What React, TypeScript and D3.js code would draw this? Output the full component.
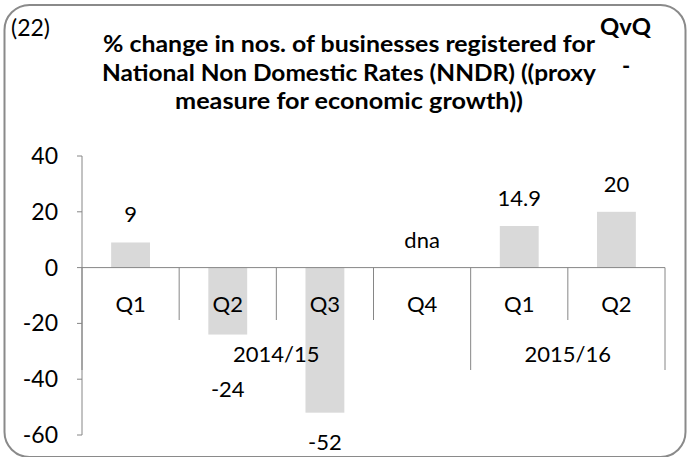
import React from "react";
import * as d3 from "d3";

const categories = ["Q1", "Q2", "Q3", "Q4", "Q1", "Q2"];
const values = [9, -24, -52, null, 14.9, 20];
const valueLabels = ["9", "-24", "-52", "dna", "14.9", "20"];
const labelNudge = [0, 25, 0, 0, 0, 0];
const years = [
  { label: "2014/15", from: 0, to: 4 },
  { label: "2015/16", from: 4, to: 6 },
];
const yTicks = [-60, -40, -20, 0, 20, 40];
const titleLines = [
  "% change in nos. of businesses registered for",
  "National Non Domestic Rates (NNDR) ((proxy",
  "measure for economic growth))",
];
const titleWidths = [492, 494, 348];

const W = 688;
const H = 457;
const font = "Lato, 'Open Sans', sans-serif";
const axisColor = "#868686";

const App = () => {
  const y = d3.scaleLinear().domain([-60, 40]).range([435, 156]);
  const x = d3
    .scaleBand<number>()
    .domain(categories.map((_, i) => i))
    .range([82, 665])
    .paddingInner(0)
    .paddingOuter(0);
  const bw = x.bandwidth();
  const barW = bw * 0.4;
  const y0 = y(0);
  const edge = (i: number) => (i < categories.length ? x(i)! : x(categories.length - 1)! + bw);
  const yearEdges = new Set(years.flatMap((d) => [d.from, d.to]));

  return (
    <div style={{ position: "absolute", left: 0, top: 0 }}>
      <svg width={W} height={H} style={{ display: "block", fontFamily: font }}>
        <rect x={0} y={0} width={W} height={H} fill="#ffffff" />
        <rect x={4.5} y={5} width={681} height={452} rx={25} ry={25} fill="none" stroke="#8a8a8a" strokeWidth={2} />

        <text x={11} y={36} fontSize={23}>(22)</text>
        {titleLines.map((t, i) => (
          <text
            key={i}
            x={349}
            y={52 + i * 28.5}
            textAnchor="middle"
            fontSize={22}
            fontWeight="bold"
            textLength={titleWidths[i]}
            lengthAdjust="spacingAndGlyphs"
          >
            {t}
          </text>
        ))}
        <text x={600} y={35} fontSize={22} fontWeight="bold" textLength={51} lengthAdjust="spacingAndGlyphs">QvQ</text>
        <text x={626} y={74} textAnchor="middle" fontSize={22} fontWeight="bold">-</text>

        {values.map((v, i) =>
          v == null ? null : (
            <rect
              key={i}
              x={x(i)! + (bw - barW) / 2}
              y={y(Math.max(0, v))}
              width={barW}
              height={Math.abs(y(v) - y0)}
              fill="#d9d9d9"
            />
          )
        )}

        {/* y axis */}
        <line x1={82} x2={82} y1={y(40)} y2={y(-60)} stroke={axisColor} />
        {yTicks.map((t) => (
          <g key={t}>
            <line x1={77} x2={82} y1={y(t)} y2={y(t)} stroke={axisColor} />
            <text x={58} y={y(t) + 8} textAnchor="end" fontSize={23}>{t}</text>
          </g>
        ))}

        {/* x axis */}
        <line x1={82} x2={edge(categories.length)} y1={y0} y2={y0} stroke={axisColor} />
        {d3.range(categories.length + 1).map((i) => (
          <line
            key={i}
            x1={edge(i)}
            x2={edge(i)}
            y1={y0}
            y2={yearEdges.has(i) ? 370 : 320}
            stroke={axisColor}
          />
        ))}
        {categories.map((c, i) => (
          <text key={i} x={x(i)! + bw / 2} y={y0 + 44} textAnchor="middle" fontSize={22}>{c}</text>
        ))}
        {years.map((yr) => (
          <text key={yr.label} x={(edge(yr.from) + edge(yr.to)) / 2} y={y0 + 94} textAnchor="middle" fontSize={22}>
            {yr.label}
          </text>
        ))}

        {/* data labels */}
        {values.map((v, i) => {
          const val = v ?? 0;
          const ly = val >= 0 ? y(val) - 20 : y(val) + 37 + labelNudge[i];
          return (
            <text key={i} x={x(i)! + bw / 2} y={ly} textAnchor="middle" fontSize={22}>
              {valueLabels[i]}
            </text>
          );
        })}
      </svg>
    </div>
  );
};

export default App;
